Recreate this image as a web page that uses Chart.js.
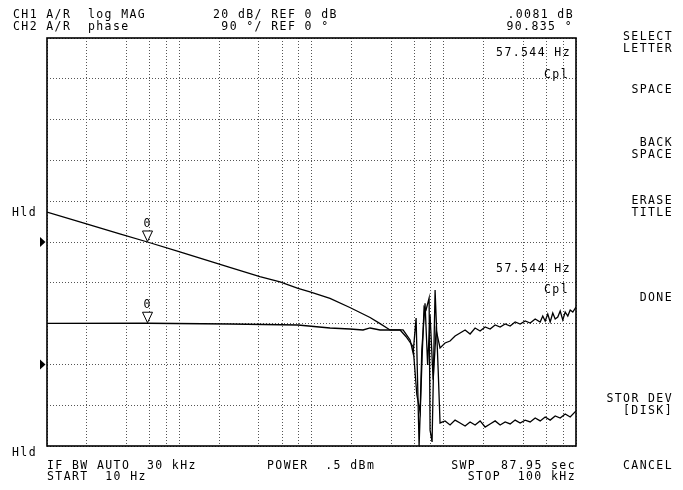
<!DOCTYPE html>
<html>
<head>
<meta charset="utf-8">
<title>CH1 A/R log MAG / CH2 A/R phase</title>
<script src="https://cdn.jsdelivr.net/npm/chart.js@4.4.1/dist/chart.umd.min.js"></script>
<style>
body { margin: 0; background: #fff; }
#wrap { position: relative; width: 683px; height: 490px; overflow: hidden; background: #fff; }
#scope { position: absolute; left: 0; top: 0; }
.t { position: absolute; font-family: "DejaVu Sans Mono", monospace; font-size: 11.5px; letter-spacing: 1.4px;
     line-height: 12px; color: #000; white-space: pre; }
.r { text-align: right; }
</style>
</head>
<body>
<div id="wrap">
  <canvas id="scope" width="683" height="490"></canvas>

  <div class="t" style="left:13px;top:8px">CH1 A/R  log MAG</div>
  <div class="t" style="left:13px;top:20px">CH2 A/R  phase</div>
  <div class="t" style="left:213px;top:8px">20 dB/ REF 0 dB</div>
  <div class="t" style="left:213px;top:20px"> 90 °/ REF 0 °</div>
  <div class="t r" style="right:109px;top:8px">.0081 dB</div>
  <div class="t r" style="right:110px;top:20px">90.835 °</div>

  <div class="t r" style="right:112px;top:46px">57.544 Hz</div>
  <div class="t r" style="right:114px;top:68px">Cpl</div>
  <div class="t r" style="right:112px;top:262px">57.544 Hz</div>
  <div class="t r" style="right:114px;top:283px">Cpl</div>

  <div class="t" style="left:12px;top:206px">Hld</div>
  <div class="t" style="left:12px;top:446px">Hld</div>

  <div class="t" style="left:47px;top:459px">IF BW AUTO  30 kHz</div>
  <div class="t" style="left:47px;top:470px">START  10 Hz</div>
  <div class="t" style="left:267px;top:459px">POWER  .5 dBm</div>
  <div class="t r" style="right:107px;top:459px">SWP   87.95 sec</div>
  <div class="t r" style="right:107px;top:470px">STOP  100 kHz</div>

  <div class="t r" style="right:10px;top:30px">SELECT<br>LETTER</div>
  <div class="t r" style="right:10px;top:83px">SPACE</div>
  <div class="t r" style="right:10px;top:136px">BACK<br>SPACE</div>
  <div class="t r" style="right:10px;top:194px">ERASE<br>TITLE</div>
  <div class="t r" style="right:10px;top:291px">DONE</div>
  <div class="t r" style="right:10px;top:392px">STOR DEV<br>[DISK]</div>
  <div class="t r" style="right:10px;top:459px">CANCEL</div>

  <div class="t" id="mk1">0</div>
  <div class="t" id="mk2">0</div>
</div>

<script>
// sweep 10 Hz .. 100 kHz, log
var gridFreq = [10, 20, 40, 60, 80, 100, 200, 400, 600, 800, 1000, 2000, 4000, 6000, 8000,
                10000, 20000, 40000, 60000, 80000, 100000];

// CH1 log MAG, 20 dB/div, ref 0 dB at centre
var magFreq = [10, 17.7, 35.5, 57.5, 101, 241, 407, 578, 791, 974, 1380, 1950, 2773, 3300, 3925,
               4925, 5565, 5865, 6180, 6510, 6860, 7100, 7350, 7750, 7880, 8160, 8600, 9075, 9375,
               10230, 11160, 12180, 13290, 14500, 15820, 17260, 18830, 20550, 22420, 24460, 26690,
               29120, 31770, 34660, 37820, 41260, 45020, 49120, 53590, 58470, 63790, 69600, 75940,
               82850, 90390, 100000];
var magDb = [14.7, 9.9, 4.0, 0.0, -4.8, -12.4, -17.0, -19.5, -22.7, -24.4, -27.6, -32.1, -37.0, -40.0, -43.1,
             -43.1, -48.0, -54.4, -37.3, -100, -56.4, -31.9, -33.3, -27.5, -92.2, -98.0, -23.5, -62.7, -88.7,
             -87.7, -89.7, -87.3, -88.7, -90.2, -88.2, -89.7, -87.7, -90.7, -89.2, -87.7, -89.7,
             -88.2, -89.2, -87.3, -88.7, -87.3, -88.2, -86.3, -87.7, -85.8, -87.3, -85.3, -86.3,
             -84.3, -85.8, -82.8];

// CH2 phase, 90 deg/div, ref 0 deg two divisions above bottom
var phaseFreq = [10, 57.5, 241, 791, 1380, 1950, 2454, 2773, 3300, 3925, 4675, 5193, 5865, 5970, 6258,
                 6625, 6825, 7220, 7553, 7880, 8315, 8760, 9375, 10230, 11160, 12180, 13290, 14500,
                 15820, 17260, 18830, 20550, 22420, 24460, 26690, 29120, 31770, 34660, 37820, 41260,
                 45020, 49120, 53590, 56060, 58470, 61160, 63790, 66730, 69600, 72820, 75940, 79450,
                 82850, 86700, 90390, 94580, 100000];
var phaseDeg = [90.4, 90.8, 89.1, 86.9, 80.3, 78.1, 75.9, 80.3, 75.9, 75.9, 75.9, 61.1, 39.0, 9.7, -67,
                -105, 31.8, 135, -1, 109, -34, 75.9, 36.2, 47.2, 51.6, 62.6, 69.3, 75.9,
                67.1, 80.3, 73.6, 82.5, 78.1, 86.9, 82.5, 89.1, 84.7, 93.5, 89.1, 95.7,
                91.3, 100.2, 93.5, 106.8, 95.7, 111.2, 93.5, 113.4, 100.2, 104.6, 117.8, 97.9,
                115.6, 106.8, 120.1, 115.6, 126.6];

var markerFreq = 57.544;
var markerDb = 0.0081;
var markerDeg = 90.835;

var dbRange = [-100, 100];
var degRange = [-180, 720];

function pts(xs, ys) {
  return xs.map(function (f, i) { return { x: f, y: ys[i] }; });
}

var scopeFrame = {
  id: 'scopeFrame',
  afterDraw: function (chart) {
    var ctx = chart.ctx, a = chart.chartArea;
    var sx = chart.scales.x, sy = chart.scales.y, sy2 = chart.scales.y2;
    ctx.save();
    ctx.strokeStyle = '#000';
    ctx.lineWidth = 1.6;
    ctx.strokeRect(a.left, a.top, a.right - a.left, a.bottom - a.top);

    // reference position arrows
    ctx.fillStyle = '#000';
    [sy.getPixelForValue(0), sy2.getPixelForValue(0)].forEach(function (py) {
      ctx.beginPath();
      ctx.moveTo(a.left - 7, py - 5);
      ctx.lineTo(a.left - 1.5, py);
      ctx.lineTo(a.left - 7, py + 5);
      ctx.closePath();
      ctx.fill();
    });

    // marker triangles, tip on trace
    var mx = sx.getPixelForValue(markerFreq);
    ctx.lineWidth = 1;
    [sy.getPixelForValue(markerDb), sy2.getPixelForValue(markerDeg)].forEach(function (py) {
      ctx.beginPath();
      ctx.moveTo(mx - 5, py - 11);
      ctx.lineTo(mx + 5, py - 11);
      ctx.lineTo(mx, py - 0.5);
      ctx.closePath();
      ctx.fillStyle = '#fff';
      ctx.fill();
      ctx.stroke();
    });
    ctx.restore();
  }
};

var gridStyle = { color: '#555', lineWidth: 1, drawTicks: false };
var dotted = { display: false, dash: [1, 2] };

var ctx = document.getElementById('scope');
var scope = new Chart(ctx, {
  type: 'line',
  data: {
    datasets: [{
      label: 'CH1 log MAG',
      data: pts(magFreq, magDb),
      yAxisID: 'y',
      borderColor: '#000',
      borderWidth: 1.3,
      pointRadius: 0,
      tension: 0
    }, {
      label: 'CH2 phase',
      data: pts(phaseFreq, phaseDeg),
      yAxisID: 'y2',
      borderColor: '#000',
      borderWidth: 1.3,
      pointRadius: 0,
      tension: 0
    }]
  },
  options: {
    responsive: false,
    animation: false,
    layout: { padding: { left: 47, top: 38, right: 107, bottom: 44 } },
    plugins: { legend: { display: false }, tooltip: { enabled: false } },
    scales: {
      x: {
        type: 'logarithmic',
        min: 10,
        max: 100000,
        ticks: { display: false },
        grid: gridStyle,
        border: dotted,
        afterBuildTicks: function (scale) {
          scale.ticks = gridFreq.map(function (v) { return { value: v }; });
        }
      },
      y: {
        min: dbRange[0],
        max: dbRange[1],
        ticks: { display: false, stepSize: 20 },
        grid: gridStyle,
        border: dotted
      },
      y2: {
        min: degRange[0],
        max: degRange[1],
        display: false
      }
    }
  },
  plugins: [scopeFrame]
});

// marker numbers above the triangles
var mxp = scope.scales.x.getPixelForValue(markerFreq);
var m1 = document.getElementById('mk1'), m2 = document.getElementById('mk2');
m1.style.left = (mxp - 4) + 'px';
m1.style.top = (scope.scales.y.getPixelForValue(markerDb) - 25) + 'px';
m2.style.left = (mxp - 4) + 'px';
m2.style.top = (scope.scales.y2.getPixelForValue(markerDeg) - 25) + 'px';
</script>
</body>
</html>
